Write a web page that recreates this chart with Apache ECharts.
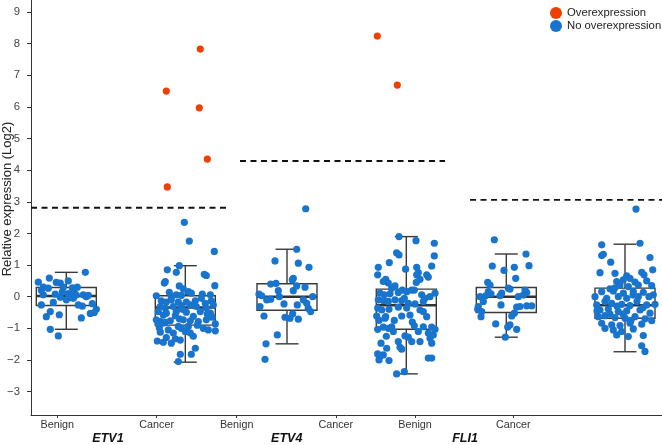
<!DOCTYPE html>
<html><head><meta charset="utf-8">
<script src="https://cdn.jsdelivr.net/npm/echarts@6/dist/echarts.min.js"></script>
<style>html,body{margin:0;padding:0;background:#fff}#c{width:662px;height:445px}</style>
</head><body><div id="c"></div>
<script>
// ---------------- DATA ----------------
const categories = ['Benign','Cancer','Benign','Cancer','Benign','Cancer'];
const genes = ['ETV1','ETV4','FLI1'];
const thresholds = [2.81, 4.29, 3.06];
const yTicks = [-3,-2,-1,0,1,2,3,4,5,6,7,8,9];
// box stats per category: [lower whisker, Q1, median, Q3, upper whisker]
const boxStats = [
  [-1.03,-0.28,0.02,0.29,0.77],
  [-2.07,-0.90,-0.34,0.03,0.98],
  [-1.49,-0.43,0.00,0.41,1.50],
  [-2.44,-1.03,-0.27,0.24,1.90],
  [-1.28,-0.50,0.00,0.29,1.35],
  [-1.74,-0.68,-0.27,0.27,1.66]
];
// individual sample values (no overexpression)
const etv1Benign = [0.46,0.59,0.30,0.20,0.45,0.43,0.50,0.30,0.30,0.28,0.77,0.06,0.08,0.10,0.12,0.06,0.04,-0.26,-0.18,-0.10,-0.03,-0.26,-0.30,-0.22,-0.40,-0.50,-0.53,-0.63,-0.47,-0.57,-0.67,-1.03,-1.24,0.05,0.27,0.15,0.00,-0.05,-0.02];
const etv1Cancer = [2.35,1.76,1.43,0.98,0.85,0.77,0.71,0.67,0.48,0.43,0.35,0.34,0.25,0.16,0.03,0.14,0.06,0.04,0.11,0.08,0.06,
  -0.13,-0.17,-0.10,-0.17,-0.17,-0.13,-0.21,-0.13,
  -0.31,-0.36,-0.31,-0.28,-0.26,-0.31,-0.36,-0.26,
  -0.47,-0.52,-0.47,-0.49,-0.47,-0.52,
  -0.73,-0.79,-0.81,-0.76,-0.70,-0.73,-0.76,-0.79,-0.73,
  -0.87,-0.84,-0.86,
  -0.94,-1.00,-0.94,-1.00,-1.05,-1.08,
  -1.12,-1.15,-1.10,-1.15,
  -1.29,-1.33,-1.37,
  -1.40,-1.44,-1.47,
  -1.63,-1.82,-1.82,-2.05,
  -0.60,-0.62,-0.58,-0.05,0.00,-0.55,-0.90,-1.05,-0.65,-0.40,-1.25,-0.98];
const etv4Benign = [2.78,1.50,1.13,1.06,0.93,0.58,0.53,0.40,0.42,0.34,0.30,0.19,0.19,0.08,0.03,-0.10,-0.08,0.00,-0.10,0.00,-0.21,-0.23,-0.26,-0.31,-0.37,-0.47,-0.61,-0.65,-0.68,-0.54,-0.71,-1.21,-1.49,-1.98];
const etv4Cancer = [1.90,1.77,1.69,1.39,1.32,1.29,1.08,0.97,0.93,0.87,0.93,0.69,0.76,0.69,0.55,0.69,0.62,0.55,0.48,0.43,0.34,0.27,0.21,0.21,0.11,
  0.11,0.06,0.09,0.13,0.16,0.21,0.06,0.00,-0.05,
  -0.10,-0.12,-0.15,-0.10,-0.12,-0.21,-0.23,-0.15,
  -0.36,-0.42,-0.40,-0.33,-0.36,-0.42,-0.47,
  -0.61,-0.63,-0.61,-0.58,-0.63,
  -0.75,-0.68,
  -1.03,-0.96,-1.00,-0.95,-0.92,-0.95,-0.96,-1.03,
  -1.10,-1.24,-1.28,-1.15,-1.21,
  -1.47,-1.42,-1.42,-1.42,-1.31,-1.47,
  -1.63,-1.60,-1.66,
  -1.81,-1.89,-1.84,
  -2.00,-2.02,-1.94,-1.94,
  -2.44,-2.37,
  -0.75,-0.80,-0.05,-1.10,-1.25,0.45];
const fli1Benign = [1.80,1.35,0.97,0.98,0.83,0.93,0.58,0.45,0.37,0.27,0.24,0.21,0.13,0.16,0.09,0.11,0.03,0.00,0.03,0.05,-0.31,-0.40,-0.47,-0.63,-0.26,-0.33,-0.31,-0.29,-0.29,-0.52,-0.61,-0.86,-0.89,-0.96,-1.03,-1.28,-0.15,0.00];
const fli1Cancer = [2.77,1.69,1.64,1.34,1.30,1.24,1.09,0.85,0.76,0.74,0.77,0.69,0.66,0.58,0.53,
  0.48,0.46,0.50,
  0.37,0.32,0.37,0.35,
  0.16,0.18,0.11,0.16,0.14,
  0.00,-0.05,0.00,-0.05,0.00,0.06,
  -0.26,-0.21,-0.24,-0.28,-0.26,-0.24,
  -0.42,-0.39,-0.47,-0.45,-0.42,-0.52,
  -0.63,-0.60,-0.66,-0.68,-0.63,-0.70,-0.76,
  -0.84,-0.89,-0.91,-0.84,-0.87,
  -1.00,-1.05,-1.10,-1.02,
  -1.21,-1.26,-1.23,
  -1.55,-1.73,
  0.25,0.05,-0.15,-0.15,-0.30,-0.35,-0.55,-0.55,-0.75,-0.45,0.00,0.28];
const sampleValues = [etv1Benign, etv1Cancer, etv4Benign, etv4Cancer, fli1Benign, fli1Cancer];
// overexpression samples (cancer only): values
const etv1Over = [3.47,6.50,7.83,5.97,4.35];
const etv4Over = [8.24,6.69];

// ---------------- LAYOUT (x in pixel-like axis units) ----------------
const boxCenters = [35.3,154.3,256,375.3,475.3,594];
const labelPos = [26.3,125.7,205.7,304.8,384,482.3];
const genePos = [77,255.7,434];
const threshSpan = [[0,197],[209,414],[439,631]];
const BOX_W = 60, CAP_W = 23;
const jitter = [
  [-28,-17,-23,-25,-10,-6,2,-3,11,6,19,-23,-11,2,8,17,22,-25,-13,0,4,12,16,26,30,28,24,-20,-16,-7,15,-16,-8,10,-18,-4,20,7,-6],
  [-1,4,29,-6,-18,-9,19,21,-20,-21,29.5,-6,-2,3,-29,-16,-9,-4,6,17,25,
   -24,-19,-14,-7,1,10,20,26,
   -25,-20,-12,-4,5,11,21,28,
   -27,-19,-9,1,15,25,
   -29,-25,-20,-15,-6,-2,5,13,21,
   -27,-22,30,
   -7,-4,3,18,23,30,
   -25,-12,0,5,
   -19,-10,-5,
   -28,-22,-14,
   10,6,-5,-7,
   -10,8,-22,16,-14,22,12,-17,27,-3,8,-26],
  [18.7,9.7,-12,11.3,22,6.3,5.3,-16.3,-11,9.7,18,-8.7,6.3,-28,-25.3,-20.3,-16.3,-7.7,16.3,25.7,19.7,-3,10.3,-27,21.3,23.7,-23,-2,3,5.7,11.3,-9.7,-21,-22],
  [-7.3,9.7,28,-9.7,-7.3,28,-17,25.4,-28,-0.7,10.4,-28.6,12,10.4,13.7,20.4,22,-20.6,-23,-18,-11.3,-14.6,-4,5.4,28.7,
   -26.3,-22,-16.3,-8,0.4,8,15.4,23.7,18.7,
   -28,-23,-18,-11.3,-4.6,2,8.7,17,
   -28.6,-24.6,-17.3,-8,0.4,13.7,17,
   -29.6,-20.6,-4.6,3.7,20.4,
   -27.3,-21.3,
   -28.6,-23,-18,-14.6,8,17,25.4,28.7,
   -13,-1.3,2,22,27,
   -25.3,-8,5.4,13.7,23.7,25.4,
   -19.6,-6.3,-4.6,
   -28.6,-26.3,-23,
   -27.3,-17.3,22,25.4,
   -9.7,-2,
   -12,6,-2,12,-20,10],
  [-12,19.7,-14,22.7,-2.3,8,9.4,-18.6,-16.3,2,3.7,18.7,20.4,-18,-15.3,-4.6,-6.3,-26.3,-20.6,17,-28,-28.6,-24.6,-25.3,-5.3,10.4,13.7,20.4,25.4,8,5.4,-10.6,3.7,1.4,10.4,-1,-23,12],
  [11,15,-23.3,-21.7,-23.3,25,-14.3,27.7,-25,-10,16.7,19,1.7,5,-1.7,
   -8.3,10,21.7,
   -5,3.3,13.3,26.7,
   -23.3,-11.7,-1.7,8.3,18.3,
   -30,-18.3,-6.7,1.7,13.3,28.3,
   -28.3,-13.3,-3.3,5,21.7,30,
   -25,-16.7,-6.7,1.7,15,25,
   -26.7,-20,-10,0,10,20,26.7,
   -23.3,-13.3,-5,5,16.7,
   -20,-11.7,-3.3,8.3,
   -8.3,3.3,18.3,
   16.7,20,
   -15,8,-20,12,-8,18,-2,-15,6,-28,24,-10]
];
const overJitter = {1:[-18,-19,15,14,22], 3:[-29,-9]};

// ---------------- BUILD ----------------
const BLUE = '#1874CD', ORANGE = '#EE4000', INK = '#333';
const FONT = 'Liberation Sans, Arial, sans-serif';

const blueData = [];
sampleValues.forEach((vals, i) => {
  const n = Math.min(vals.length, jitter[i].length);
  for (let j = 0; j < n; j++) blueData.push([boxCenters[i] + jitter[i][j], vals[j]]);
});
const orangeData = [];
etv1Over.forEach((v, j) => orangeData.push([boxCenters[1] + overJitter[1][j], v]));
etv4Over.forEach((v, j) => orangeData.push([boxCenters[3] + overJitter[3][j], v]));

const boxData = boxStats.map((s, i) => [boxCenters[i], ...s]);

const threshSeries = thresholds.map((t, i) => ({
  type: 'line', silent: true, symbol: 'none', z: 1,
  data: [[threshSpan[i][0], t], [threshSpan[i][1], t]],
  lineStyle: { color: '#111', width: 1.9, type: [6, 4.5] }
}));

function nearestIdx(arr, v) { let k = 0, d = 1e9; arr.forEach((p, i) => { if (Math.abs(p - v) < d) { d = Math.abs(p - v); k = i; } }); return k; }

const chart = echarts.init(document.getElementById('c'), null, { renderer: 'canvas' });
chart.setOption({
  animation: false,
  backgroundColor: '#fff',
  grid: { left: 31, right: 0, top: 0, bottom: 30, containLabel: false, outerBoundsMode: 'none' },
  legend: {
    data: ['Overexpression', 'No overexpression'],
    orient: 'vertical', left: 550, top: 7, padding: 0,
    itemWidth: 12, itemHeight: 12, itemGap: 1, icon: 'circle',
    textStyle: { fontFamily: FONT, fontSize: 11.3, color: '#222' }
  },
  xAxis: [{
    type: 'value', min: 0, max: 631, splitLine: { show: false },
    axisLine: { show: true, onZero: false, lineStyle: { color: INK, width: 1 } },
    axisTick: { show: true, length: 3, customValues: labelPos, lineStyle: { color: INK } },
    axisLabel: {
      customValues: labelPos, margin: 5, fontFamily: FONT, fontSize: 10.8, color: '#333',
      formatter: v => categories[nearestIdx(labelPos, v)]
    }
  }, {
    type: 'value', min: 0, max: 631, position: 'bottom', gridIndex: 0,
    splitLine: { show: false }, axisLine: { show: false, onZero: false }, axisTick: { show: false },
    axisLabel: {
      customValues: genePos, margin: 17, fontFamily: FONT, fontSize: 12.5,
      fontWeight: 'bold', fontStyle: 'italic', color: '#111',
      formatter: v => genes[nearestIdx(genePos, v)]
    }
  }],
  yAxis: {
    type: 'value', min: -3.74, max: 9.38, splitLine: { show: false },
    axisLine: { show: true, onZero: false, lineStyle: { color: INK, width: 1 } },
    axisTick: { show: true, length: 4, customValues: yTicks, lineStyle: { color: INK } },
    axisLabel: {
      customValues: yTicks, margin: 11, fontFamily: FONT, fontSize: 11.3, color: '#444',
      formatter: v => v < 0 ? '\u2212' + Math.abs(v) : String(v)
    }
  },
  graphic: [{
    type: 'text', x: 7, y: 199, rotation: Math.PI / 2,
    style: { text: 'Relative expression (Log2)', fontFamily: FONT, fontSize: 13, fill: '#222', align: 'center', verticalAlign: 'middle' }
  }],
  series: [
    ...threshSeries,
    {
      type: 'custom', name: 'box', silent: true, z: 2,
      data: boxData,
      encode: { x: 0, y: [1, 2, 3, 4, 5] },
      renderItem: (params, api) => {
        const x = api.value(0);
        const low = api.coord([x, api.value(1)]);
        const q1 = api.coord([x, api.value(2)]);
        const med = api.coord([x, api.value(3)]);
        const q3 = api.coord([x, api.value(4)]);
        const high = api.coord([x, api.value(5)]);
        const bw = api.size([BOX_W, 0])[0];
        const cw = api.size([CAP_W, 0])[0];
        const cx = q1[0];
        const st = { stroke: '#3a3a3a', lineWidth: 1.4, fill: null };
        return {
          type: 'group', children: [
            { type: 'line', shape: { x1: cx, y1: q3[1], x2: cx, y2: high[1] }, style: st },
            { type: 'line', shape: { x1: cx, y1: q1[1], x2: cx, y2: low[1] }, style: st },
            { type: 'line', shape: { x1: cx - cw / 2, y1: high[1], x2: cx + cw / 2, y2: high[1] }, style: st },
            { type: 'line', shape: { x1: cx - cw / 2, y1: low[1], x2: cx + cw / 2, y2: low[1] }, style: st },
            { type: 'rect', shape: { x: cx - bw / 2, y: q3[1], width: bw, height: q1[1] - q3[1] }, style: { stroke: '#3a3a3a', lineWidth: 1.4, fill: 'none' } },
            { type: 'line', shape: { x1: cx - bw / 2, y1: med[1], x2: cx + bw / 2, y2: med[1] }, style: { stroke: '#333', lineWidth: 2.6 } }
          ]
        };
      }
    },
    {
      type: 'scatter', name: 'No overexpression', z: 3, symbolSize: 7.2,
      itemStyle: { color: BLUE, opacity: 1 }, data: blueData
    },
    {
      type: 'scatter', name: 'Overexpression', z: 3, symbolSize: 7.2,
      itemStyle: { color: ORANGE, opacity: 1 }, data: orangeData
    }
  ]
});
</script>
</body></html>
